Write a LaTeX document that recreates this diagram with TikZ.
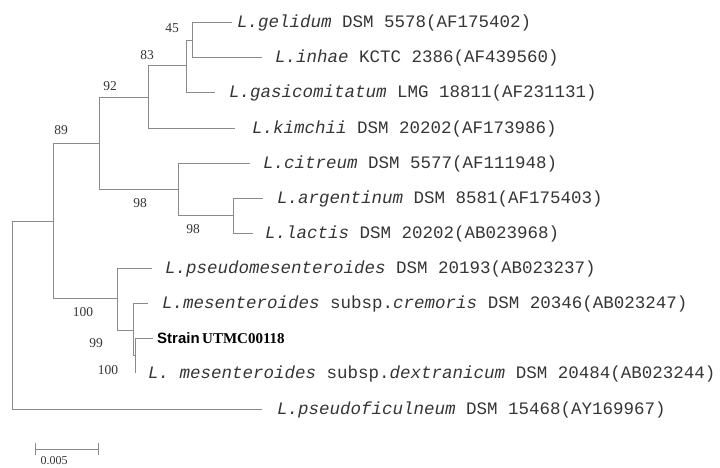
\documentclass[tikz,border=0pt]{standalone}
\usepackage{fontspec}
\setmainfont{Liberation Serif}
\newfontfamily\monof{Liberation Mono}
\newfontfamily\sansf{Liberation Sans}
\definecolor{linegray}{HTML}{8A8A8A}
\definecolor{txtgray}{HTML}{353535}
\begin{document}
\begin{tikzpicture}[x=1pt,y=-1pt,
  br/.style={draw=linegray, line width=0.9pt},
  leaf/.style={anchor=base west, inner sep=0pt, font=\monof\fontsize{17.5}{20}\selectfont, text=txtgray},
  bs/.style={font=\fontsize{13.5}{15}\selectfont, text=txtgray, inner sep=0pt}]
\useasboundingbox (0,0) rectangle (720,467);
% internal nodes
\coordinate (root) at (12,315);
\coordinate (n89) at (53,221);
\coordinate (n92) at (99,143);
\coordinate (n83) at (148,97);
\coordinate (n45) at (186,65);
\coordinate (nA) at (192,40);
\coordinate (n98a) at (178,189);
\coordinate (n98b) at (233,215);
\coordinate (n100a) at (117,298);
\coordinate (n99) at (133,330);
\coordinate (n100b) at (135,355);
% tips
\coordinate (tGel) at (232,22);
\coordinate (tInh) at (262,57);
\coordinate (tGas) at (215,92);
\coordinate (tKim) at (235,128);
\coordinate (tCit) at (250,163);
\coordinate (tArg) at (263,198);
\coordinate (tLac) at (253,233);
\coordinate (tPse) at (152,268);
\coordinate (tCre) at (148,303);
\coordinate (tStr) at (153,338);
\coordinate (tDex) at (135,373);
\coordinate (tFic) at (262,409);
% branches
\draw[br] (root) |- (n89);
\draw[br] (root) |- (tFic);
\draw[br] (n89) |- (n92);
\draw[br] (n89) |- (n100a);
\draw[br] (n92) |- (n83);
\draw[br] (n92) |- (n98a);
\draw[br] (n83) |- (n45);
\draw[br] (n83) |- (tKim);
\draw[br] (n45) |- (nA);
\draw[br] (n45) |- (tGas);
\draw[br] (nA) |- (tGel);
\draw[br] (nA) |- (tInh);
\draw[br] (n98a) |- (tCit);
\draw[br] (n98a) |- (n98b);
\draw[br] (n98b) |- (tArg);
\draw[br] (n98b) |- (tLac);
\draw[br] (n100a) |- (tPse);
\draw[br] (n100a) |- (n99);
\draw[br] (n99) |- (tCre);
\draw[br] (n99) |- (n100b);
\draw[br] (n100b) |- (tStr);
\draw[br] (n100b) |- (tDex);
% leaf labels
\node[leaf] (lGel) at (237,27) {\textit{L.gelidum} DSM 5578(AF175402)};
\node[leaf] (lInh) at (275,62) {\textit{L.inhae} KCTC 2386(AF439560)};
\node[leaf] (lGas) at (229,97) {\textit{L.gasicomitatum} LMG 18811(AF231131)};
\node[leaf] (lKim) at (252,133) {\textit{L.kimchii} DSM 20202(AF173986)};
\node[leaf] (lCit) at (263,168) {\textit{L.citreum} DSM 5577(AF111948)};
\node[leaf] (lArg) at (277,203) {\textit{L.argentinum} DSM 8581(AF175403)};
\node[leaf] (lLac) at (265,238) {\textit{L.lactis} DSM 20202(AB023968)};
\node[leaf] (lPse) at (165,273) {\textit{L.pseudomesenteroides} DSM 20193(AB023237)};
\node[leaf] (lCre) at (162,308) {\textit{L.mesenteroides} subsp.\textit{cremoris} DSM 20346(AB023247)};
\node[anchor=base west, inner sep=0pt, text=black] (lStr) at (157,343)
  {{\sansf\bfseries\fontsize{15}{17}\selectfont Strain} {\bfseries\fontsize{15}{17}\selectfont UTMC00118}};
\node[leaf] (lDex) at (148,378) {\textit{L. mesenteroides} subsp.\textit{dextranicum} DSM 20484(AB023244)};
\node[leaf] (lFic) at (277,414) {\textit{L.pseudoficulneum} DSM 15468(AY169967)};
% bootstrap values
\node[bs] (b45) at (172,28) {45};
\node[bs] (b83) at (147,55) {83};
\node[bs] (b92) at (110,86) {92};
\node[bs] (b89) at (61,130) {89};
\node[bs] (b98a) at (140,203) {98};
\node[bs] (b98b) at (193,229) {98};
\node[bs] (b100a) at (83,312) {100};
\node[bs] (b99) at (96,343) {99};
\node[bs] (b100b) at (108,370) {100};
% scale bar
\coordinate (sbL) at (35,449);
\coordinate (sbR) at (98,449);
\draw[br] (sbL) -- (sbR);
\draw[br] ([yshift=6pt]sbL) -- ([yshift=-6pt]sbL);
\draw[br] ([yshift=6pt]sbR) -- ([yshift=-6pt]sbR);
\node[font=\fontsize{12}{14}\selectfont, text=txtgray, inner sep=0pt] (sbT) at (54,461) {0.005};
\end{tikzpicture}
\end{document}
